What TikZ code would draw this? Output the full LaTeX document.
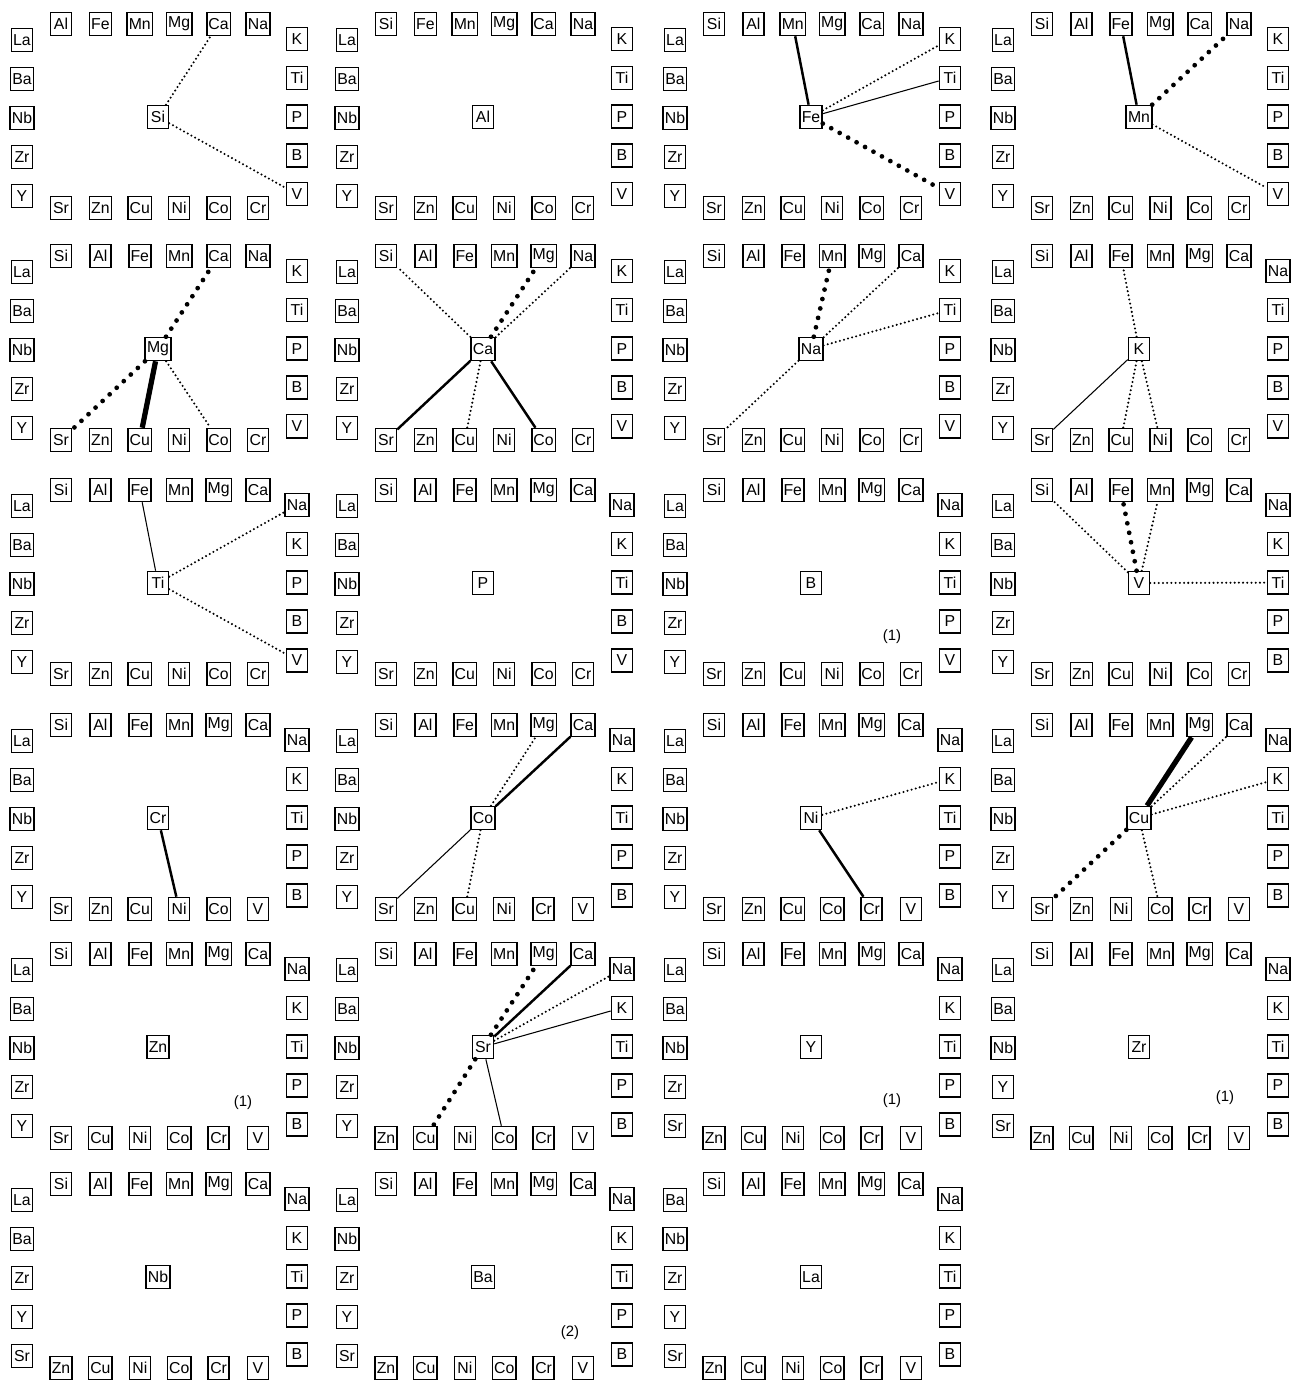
\documentclass[tikz,border=0pt]{standalone}
\usepackage{fontspec}
\setmainfont{Liberation Sans}
\usepackage{xcolor}

\tikzset{
  elbox/.style={draw,line width=0.9pt,minimum width=4.2mm,minimum height=4.6mm,
                inner sep=0.35mm,font=\fontsize{9}{10}\selectfont},
  notelbl/.style={inner sep=0pt,font=\fontsize{8.5}{10}\selectfont},
  thinln/.style={line width=0.6pt},
  solidln/.style={line width=1.4pt},
  heavyln/.style={line width=3pt},
  dotln/.style={line width=1.3pt,line cap=round,dash pattern=on 0pt off 2.4pt},
  bigdotln/.style={line width=2.7pt,line cap=round,dash pattern=on 0pt off 5.5pt}
}

% one panel: #1 name, #2 #3 origin, #4 centre element;
% the other 22 go clockwise round it in the fixed order
\newcount\elk
\newcommand\elpanel[4]{%
  \node[elbox] (#1-#4) at (#2+158,#3+117) {#4};
  \global\elk=0
  \foreach \el in {Si,Al,Fe,Mn,Mg,Ca,Na,K,Ti,P,B,V,Cr,Co,Ni,Cu,Zn,Sr,Y,Zr,Nb,Ba,La}{%
    \edef\elcur{\el}\edef\elcen{#4}%
    \ifx\elcur\elcen\else
      \ifnum\elk<6
        \pgfmathsetmacro\elx{61+39.4*\the\elk}\def\ely{24}%
      \else\ifnum\elk<11
        \def\elx{297}\pgfmathsetmacro\ely{39+38.8*(\the\elk-6)}%
      \else\ifnum\elk<17
        \pgfmathsetmacro\elx{258-39.4*(\the\elk-11)}\def\ely{208}%
      \else
        \def\elx{22}\pgfmathsetmacro\ely{196-39*(\the\elk-17)}%
      \fi\fi\fi
      \node[elbox] (#1-\elcur) at (#2+\elx,#3+\ely) {\elcur};
      \global\advance\elk by 1
    \fi
  }%
}

\begin{document}
\begin{tikzpicture}[x=0.2mm,y=-0.2mm]
  \fill[white] (0,0) rectangle (1304,1384);
  \useasboundingbox (0,0) rectangle (1304,1384);

  % panels, row by row
  \elpanel{si}{0}{0}{Si}
  \elpanel{al}{325}{0}{Al}
  \elpanel{fe}{653}{0}{Fe}
  \elpanel{mn}{981}{0}{Mn}
  \elpanel{mg}{0}{232}{Mg}
  \elpanel{ca}{325}{232}{Ca}
  \elpanel{na}{653}{232}{Na}
  \elpanel{k}{981}{232}{K}
  \elpanel{ti}{0}{466}{Ti}
  \elpanel{p}{325}{466}{P}
  \elpanel{b}{653}{466}{B}
  \elpanel{v}{981}{466}{V}
  \elpanel{cr}{0}{701}{Cr}
  \elpanel{co}{325}{701}{Co}
  \elpanel{ni}{653}{701}{Ni}
  \elpanel{cu}{981}{701}{Cu}
  \elpanel{zn}{0}{930}{Zn}
  \elpanel{sr}{325}{930}{Sr}
  \elpanel{y}{653}{930}{Y}
  \elpanel{zr}{981}{930}{Zr}
  \elpanel{nb}{0}{1160}{Nb}
  \elpanel{ba}{325}{1160}{Ba}
  \elpanel{la}{653}{1160}{La}

  % notes
  \node[notelbl] (b-note)  at (653+239,466+171) {(1)};
  \node[notelbl] (zn-note) at (0+243,930+173) {(1)};
  \node[notelbl] (y-note)  at (653+239,930+171) {(1)};
  \node[notelbl] (zr-note) at (981+244,930+168) {(1)};
  \node[notelbl] (ba-note) at (325+245,1160+173) {(2)};

  % Si
  \draw[dotln] (si-Si) -- (si-Ca);
  \draw[dotln] (si-Si) -- (si-V);
  % Fe
  \draw[solidln] (fe-Fe) -- (fe-Mn);
  \draw[dotln] (fe-Fe) -- (fe-K);
  \draw[thinln] (fe-Fe) -- (fe-Ti);
  \draw[bigdotln] (fe-Fe) -- (fe-V);
  % Mn
  \draw[solidln] (mn-Mn) -- (mn-Fe);
  \draw[bigdotln] (mn-Mn) -- (mn-Na);
  \draw[dotln] (mn-Mn) -- (mn-V);
  % Mg
  \draw[bigdotln] (mg-Mg) -- (mg-Ca);
  \draw[bigdotln] (mg-Mg) -- (mg-Sr);
  \draw[heavyln] (mg-Mg) -- (mg-Cu);
  \draw[dotln] (mg-Mg) -- (mg-Co);
  % Ca
  \draw[dotln] (ca-Ca) -- (ca-Si);
  \draw[bigdotln] (ca-Ca) -- (ca-Mg);
  \draw[dotln] (ca-Ca) -- (ca-Na);
  \draw[solidln] (ca-Ca) -- (ca-Sr);
  \draw[dotln] (ca-Ca) -- (ca-Cu);
  \draw[solidln] (ca-Ca) -- (ca-Co);
  % Na
  \draw[bigdotln] (na-Na) -- (na-Mn);
  \draw[dotln] (na-Na) -- (na-Ca);
  \draw[dotln] (na-Na) -- (na-Ti);
  \draw[dotln] (na-Na) -- (na-Sr);
  % K
  \draw[dotln] (k-K) -- (k-Fe);
  \draw[thinln] (k-K) -- (k-Sr);
  \draw[dotln] (k-K) -- (k-Cu);
  \draw[dotln] (k-K) -- (k-Ni);
  % Ti
  \draw[thinln] (ti-Ti) -- (ti-Fe);
  \draw[dotln] (ti-Ti) -- (ti-Na);
  \draw[dotln] (ti-Ti) -- (ti-V);
  % V
  \draw[dotln] (v-V) -- (v-Si);
  \draw[bigdotln] (v-V) -- (v-Fe);
  \draw[dotln] (v-V) -- (v-Mn);
  \draw[dotln] (v-V) -- (v-Ti);
  % Cr
  \draw[solidln] (cr-Cr) -- (cr-Ni);
  % Co
  \draw[dotln] (co-Co) -- (co-Mg);
  \draw[solidln] (co-Co) -- (co-Ca);
  \draw[thinln] (co-Co) -- (co-Sr);
  \draw[dotln] (co-Co) -- (co-Cu);
  % Ni
  \draw[dotln] (ni-Ni) -- (ni-K);
  \draw[solidln] (ni-Ni) -- (ni-Cr);
  % Cu
  \draw[heavyln] (cu-Cu) -- (cu-Mg);
  \draw[dotln] (cu-Cu) -- (cu-Ca);
  \draw[dotln] (cu-Cu) -- (cu-K);
  \draw[bigdotln] (cu-Cu) -- (cu-Sr);
  \draw[dotln] (cu-Cu) -- (cu-Co);
  % Sr
  \draw[bigdotln] (sr-Sr) -- (sr-Mg);
  \draw[solidln] (sr-Sr) -- (sr-Ca);
  \draw[dotln] (sr-Sr) -- (sr-Na);
  \draw[thinln] (sr-Sr) -- (sr-K);
  \draw[bigdotln] (sr-Sr) -- (sr-Cu);
  \draw[thinln] (sr-Sr) -- (sr-Co);
\end{tikzpicture}
\end{document}
